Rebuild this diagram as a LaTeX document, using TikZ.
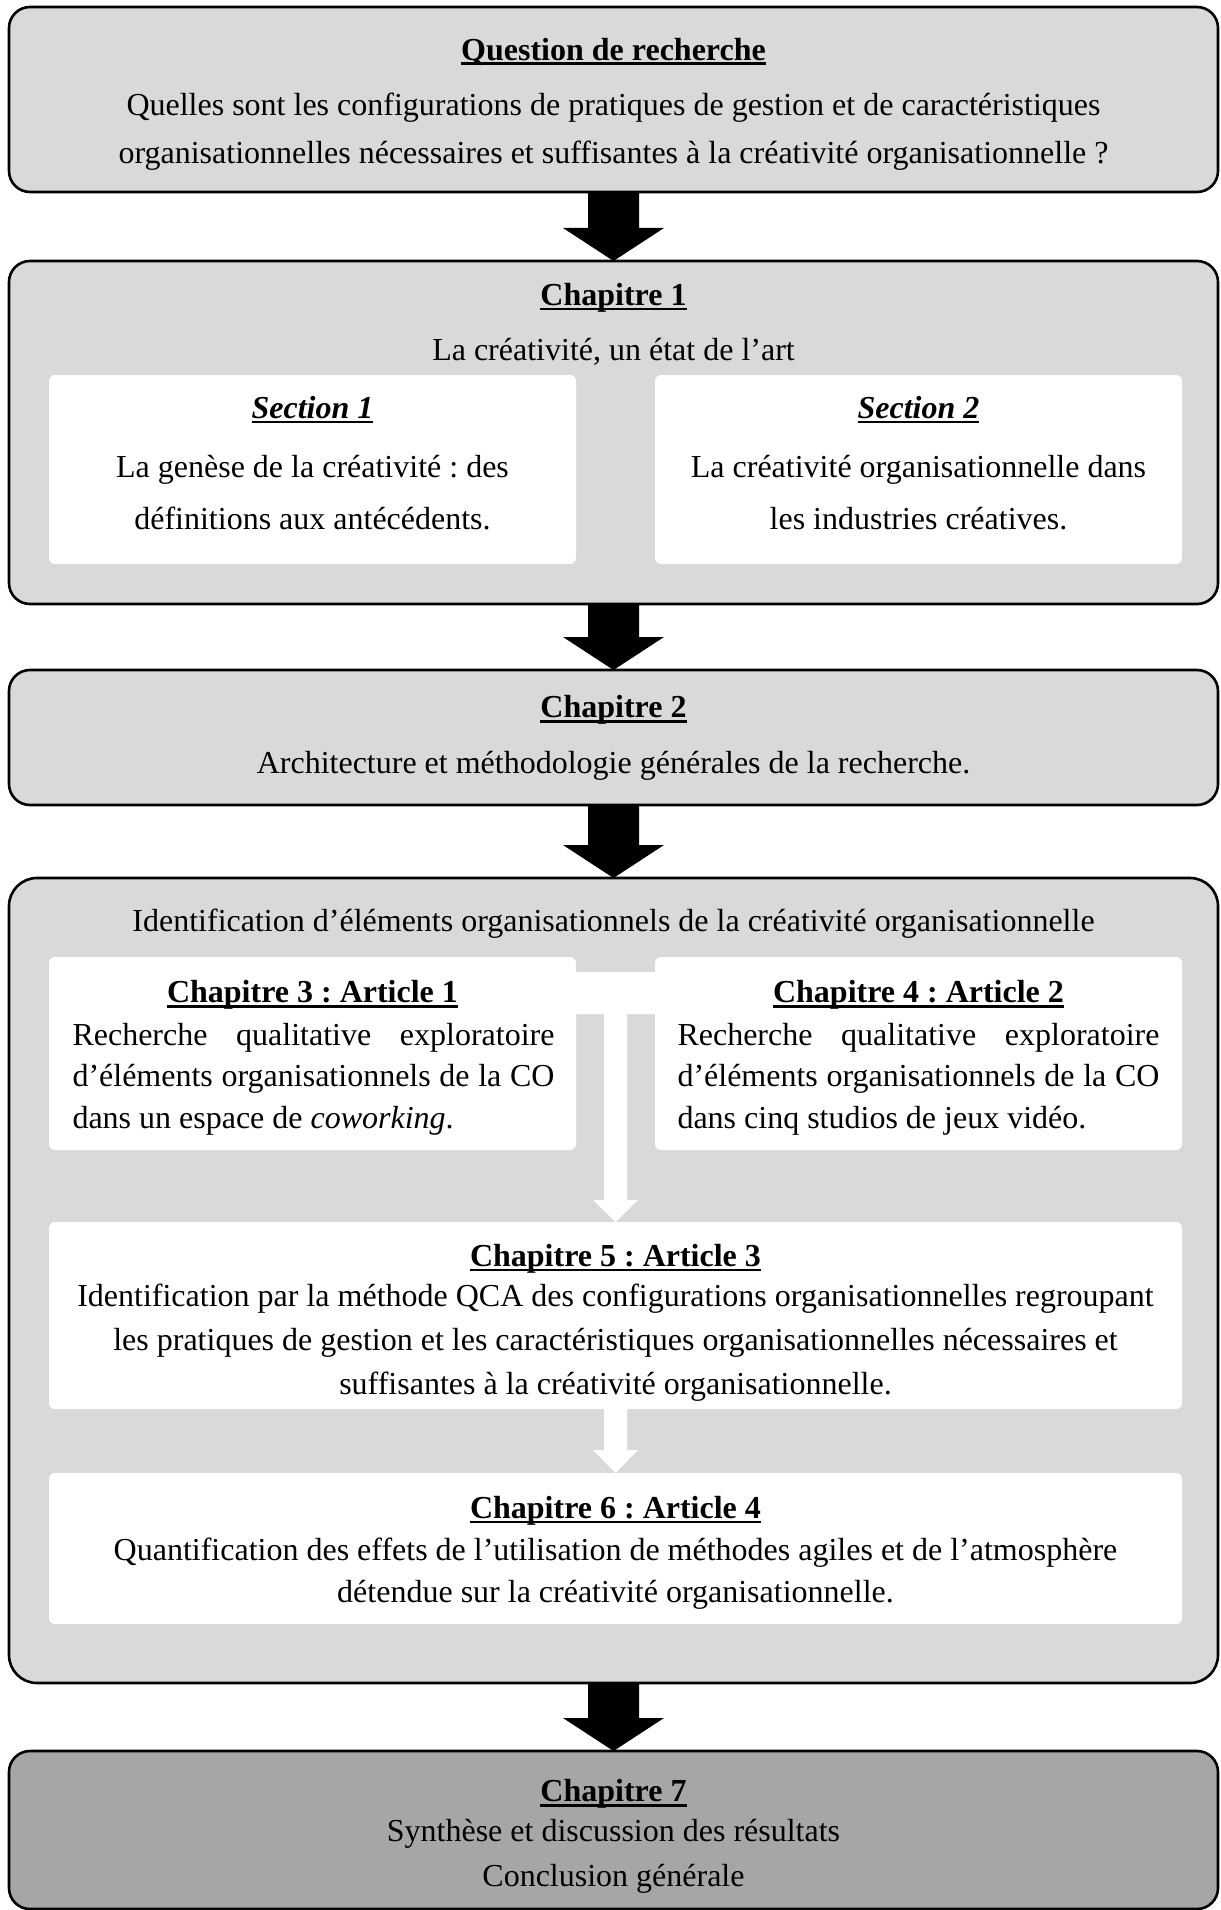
\documentclass[tikz,border=0pt]{standalone}
\usepackage{fontspec}
\setmainfont{Liberation Serif}
\usetikzlibrary{calc}
\frenchspacing
\newcommand{\myul}[1]{\begingroup\setbox0=\hbox{#1}\rlap{\rule[-2.4pt]{\wd0}{1.2pt}}\box0\endgroup}
\newcommand{\blkarrow}[2]{\fill[black] ($(#1)+(-25.5,0)$) -- ($(#1)+(25.5,0)$) -- ($(#2)+(25.5,-33)$) -- ($(#2)+(50.5,-33)$) -- (#2) -- ($(#2)+(-50.5,-33)$) -- ($(#2)+(-25.5,-33)$) -- cycle;}
\newcommand{\jline}[1]{\makebox[241pt][s]{#1}}
\newcommand{\lline}[1]{\makebox[241pt][l]{#1}}
\definecolor{boxgray}{HTML}{D9D9D9}
\definecolor{boxdark}{HTML}{A6A6A6}
\begin{document}
\begin{tikzpicture}[x=0.5pt,y=-0.5pt,
  outerbox/.style={draw=black, line width=1.3pt, rounded corners=10.5pt, fill=boxgray, inner sep=0pt, outer sep=0pt, minimum width=604.5pt},
  innerbox/.style={fill=white, rounded corners=3pt, inner sep=0pt, outer sep=0pt},
  txt/.style={font=\fontsize{16pt}{19pt}\selectfont\frenchspacing, inner sep=0pt, align=center},
  bskip/.style={font=\fontsize{16pt}{#1}\selectfont\frenchspacing}
]
\useasboundingbox (0,0) rectangle (1220,1910);
\fill[white] (0,0) rectangle (1220,1910);

% outer boxes
\node[outerbox, minimum height=92.5pt] (q) at (613.5,99.5) {};
\node[outerbox, minimum height=171.5pt] (c1) at (613.5,432.5) {};
\node[outerbox, minimum height=67.5pt] (c2) at (613.5,737.5) {};
\node[outerbox, minimum height=402.5pt, rounded corners=14pt] (c3) at (613.5,1280.5) {};
\node[outerbox, minimum height=79pt, fill=boxdark] (c7) at (613.5,1830) {};

% inner boxes
\node[innerbox, minimum width=263.5pt, minimum height=94.5pt] (s1) at (312.5,469.5) {};
\node[innerbox, minimum width=263.5pt, minimum height=94.5pt] (s2) at (918.5,469.5) {};
\node[innerbox, minimum width=263.5pt, minimum height=96.5pt] (a1) at (312.5,1053.5) {};
\node[innerbox, minimum width=263.5pt, minimum height=96.5pt] (a2) at (918.5,1053.5) {};
\node[innerbox, minimum width=566.5pt, minimum height=93.5pt] (a3) at (615.5,1315.5) {};
\node[innerbox, minimum width=566.5pt, minimum height=75.5pt] (a4) at (615.5,1548.5) {};

% black block arrows
\blkarrow{q.south}{c1.north}
\blkarrow{c1.south}{c2.north}
\blkarrow{c2.south}{c3.north}
\blkarrow{c3.south}{c7.north}

% white connectors inside the big box
\coordinate (jn) at ($(a1.north east)!0.5!(a2.north west)$);
\fill[white] ($(jn)+(-40,15)$) -- ($(jn)+(40,15)$) -- ($(jn)+(40,57)$) -- ($(jn)+(11.5,57)$)
  -- ($(a3.north)+(11.5,-22)$) -- ($(a3.north)+(22.5,-22)$) -- (a3.north)
  -- ($(a3.north)+(-22.5,-22)$) -- ($(a3.north)+(-11.5,-22)$) -- ($(jn)+(-11.5,57)$)
  -- ($(jn)+(-40,57)$) -- cycle;
\fill[white] ($(a3.south)+(-11.5,0)$) -- ($(a3.south)+(11.5,0)$) -- ($(a4.north)+(11.5,-23)$)
  -- ($(a4.north)+(22.5,-23)$) -- (a4.north) -- ($(a4.north)+(-22.5,-23)$)
  -- ($(a4.north)+(-11.5,-23)$) -- cycle;

% texts
\node[txt] (qt) at (613.5,51.5) {\textbf{\myul{Question de recherche}}};
\node[txt, bskip=24pt] (qb) at (613.5,132) {Quelles sont les configurations de pratiques de gestion et de caractéristiques\\organisationnelles nécessaires et suffisantes à la créativité organisationnelle~?};

\node[txt] (c1t) at (613.5,298) {\textbf{\myul{Chapitre 1}}};
\node[txt] (c1b) at (613.5,352) {La créativité, un état de l’art};
\node[txt] (s1t) at (312.5,409.5) {\textbf{\textit{\myul{Section 1}}}};
\node[txt, bskip=26pt] (s1b) at (312.5,493) {La genèse de la créativité~: des\\définitions aux antécédents.};
\node[txt] (s2t) at (918.5,409.5) {\textbf{\textit{\myul{Section 2}}}};
\node[txt, bskip=26pt] (s2b) at (918.5,493) {La créativité organisationnelle dans\\les industries créatives.};

\node[txt] (c2t) at (613.5,710) {\textbf{\myul{Chapitre 2}}};
\node[txt] (c2b) at (613.5,766) {Architecture et méthodologie générales de la recherche.};

\node[txt] (c3t) at (613.5,923.5) {Identification d’éléments organisationnels de la créativité organisationnelle};

\node[txt] (a1t) at (312.5,995) {\textbf{\myul{Chapitre 3~: Article 1}}};
\node[txt, bskip=20.75pt] (a1b) at (313.5,1079) {\jline{Recherche qualitative exploratoire}\\\jline{d’éléments organisationnels de la CO}\\\lline{dans un espace de \textit{coworking}.}};
\node[txt] (a2t) at (918.5,995) {\textbf{\myul{Chapitre 4~: Article 2}}};
\node[txt, bskip=20.75pt] (a2b) at (918.5,1079) {\jline{Recherche qualitative exploratoire}\\\jline{d’éléments organisationnels de la CO}\\\lline{dans cinq studios de jeux vidéo.}};

\node[txt] (a3t) at (615.5,1258.5) {\textbf{\myul{Chapitre 5~: Article 3}}};
\node[txt, bskip=22pt] (a3b) at (615.5,1342.5) {Identification par la méthode QCA des configurations organisationnelles regroupant\\les pratiques de gestion et les caractéristiques organisationnelles nécessaires et\\suffisantes à la créativité organisationnelle.};

\node[txt] (a4t) at (615.5,1510.5) {\textbf{\myul{Chapitre 6~: Article 4}}};
\node[txt, bskip=21pt] (a4b) at (615.5,1574) {Quantification des effets de l’utilisation de méthodes agiles et de l’atmosphère\\détendue sur la créativité organisationnelle.};

\node[txt] (c7t) at (613.5,1794) {\textbf{\myul{Chapitre 7}}};
\node[txt, bskip=22.5pt] (c7b) at (613.5,1856) {Synthèse et discussion des résultats\\Conclusion générale};
\end{tikzpicture}
\end{document}
